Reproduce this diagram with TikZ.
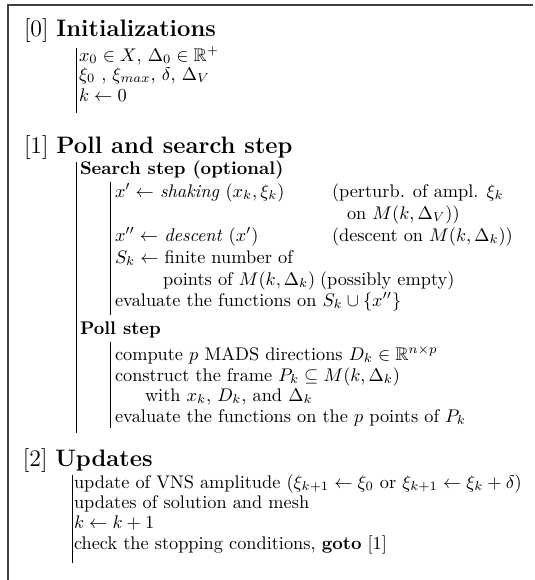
\documentclass[tikz,border=0pt]{standalone}
\usepackage{amsmath,amssymb}
\begin{document}
\begin{tikzpicture}[x=0.5464pt,y=-0.5464pt,
  txt/.style={anchor=base west,inner sep=0pt,outer sep=0pt},
  head/.style={txt,font=\fontsize{13}{15}\selectfont},
  bar/.style={line width=0.5pt},
  frame/.style={line width=0.85pt,black!75}]
\useasboundingbox (0,0) rectangle (534,580);
\draw[frame] (533,5) -- (8,5) -- (8,580);
% [0]
\node[head] (h0) at (24,36) {[0] \textbf{Initializations}};
\draw[bar] (76,48) -- (76,113);
\node[txt] (i1) at (79,61) {$x_0\in X$, $\Delta_0\in\mathbb{R}^+$};
\node[txt] (i2) at (79,80) {$\xi_0$ , $\xi_{max}$, $\delta$, $\Delta_V$};
\node[txt] (i3) at (79,101) {$k\leftarrow 0$};
% [1]
\node[head] (h1) at (24,153) {[1] \textbf{Poll and search step}};
\draw[bar] (76,162) -- (76,433);
\node[txt] (ss) at (80,174) {\textbf{Search step (optional)}};
\draw[bar] (110,182) -- (110,315);
\node[txt] (s1) at (115,197) {$x'\leftarrow$ \textit{shaking} $(x_k,\xi_k)$};
\node[txt] (s1c) at (332,197) {(perturb. of ampl. $\xi_k$};
\node[txt] (s1d) at (347,219) {on $M(k,\Delta_V))$};
\node[txt] (s2) at (115,241) {$x''\leftarrow$ \textit{descent} $(x')$};
\node[txt] (s2c) at (332,241) {(descent on $M(k,\Delta_k)$)};
\node[txt] (s3) at (115,263) {$S_k\leftarrow$ finite number of};
\node[txt] (s3b) at (163,285) {points of $M(k,\Delta_k)$};
\node[txt] (s3c) at (320,285) {(possibly empty)};
\node[txt] (s4) at (115,306) {evaluate the functions on $S_k\cup\{x''\}$};
\node[txt] (ps) at (80,334) {\textbf{Poll step}};
\draw[bar] (110,342) -- (110,428);
\node[txt] (p1) at (115,360) {compute $p$ MADS directions $D_k\in\mathbb{R}^{n\times p}$};
\node[txt] (p2) at (115,381) {construct the frame $P_k\subseteq M(k,\Delta_k)$};
\node[txt] (p2b) at (145,401) {with $x_k$, $D_k$, and $\Delta_k$};
\node[txt] (p3) at (115,422) {evaluate the functions on the $p$ points of $P_k$};
% [2]
\node[head] (h2) at (23,466) {[2] \textbf{Updates}};
\draw[bar] (72,475) -- (72,563);
\node[txt] (u1) at (74,488) {update of VNS amplitude ($\xi_{k+1}\leftarrow\xi_0$ or $\xi_{k+1}\leftarrow\xi_k+\delta$)};
\node[txt] (u2) at (74,508) {updates of solution and mesh};
\node[txt] (u3) at (74,528) {$k\leftarrow k+1$};
\node[txt] (u4) at (74,549) {check the stopping conditions, \textbf{goto} [1]};
\end{tikzpicture}
\end{document}
